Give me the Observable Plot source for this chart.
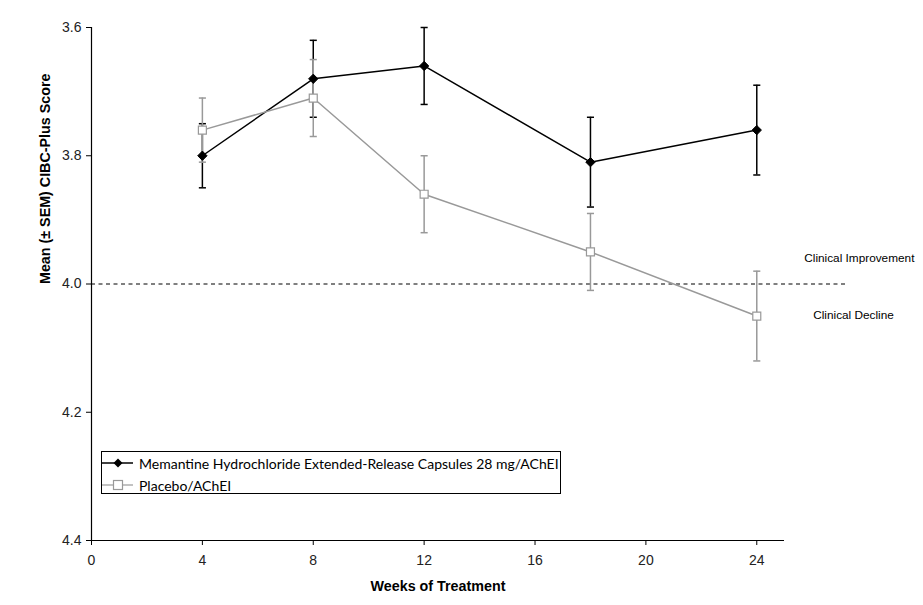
<!DOCTYPE html>
<html>
<head>
<meta charset="utf-8">
<script src="https://cdn.jsdelivr.net/npm/d3@7"></script>
<script src="https://cdn.jsdelivr.net/npm/@observablehq/plot@0.6"></script>
<style>
  body { margin: 0; background: #fff; }
  #wrap { position: relative; width: 923px; height: 605px; }
  #legend { position: absolute; left: 101px; top: 451px; width: 458px; height: 41px; border: 1px solid #000; background: #fff; font-family: Lato, "Open Sans", sans-serif; font-size: 14px; color: #000; }
  #legend .row { position: absolute; left: 0; height: 20px; display: flex; align-items: center; }
  #legend svg { display: block; }
  #legend span { margin-left: 6px; white-space: nowrap; }
</style>
</head>
<body>
<div id="wrap"></div>
<script>
const weeks = [4, 8, 12, 18, 24];
const memMean = [3.80, 3.68, 3.66, 3.81, 3.76];
const memLo = [3.75, 3.62, 3.60, 3.74, 3.69];
const memHi = [3.85, 3.74, 3.72, 3.88, 3.83];
const plaMean = [3.76, 3.71, 3.86, 3.95, 4.05];
const plaLo = [3.71, 3.65, 3.80, 3.89, 3.98];
const plaHi = [3.81, 3.77, 3.92, 4.01, 4.12];
const seriesNames = ["Memantine Hydrochloride Extended-Release Capsules 28 mg/AChEI", "Placebo/AChEI"];
const xTicks = [0, 4, 8, 12, 16, 20, 24];
const yTicks = [3.6, 3.8, 4.0, 4.2, 4.4];
const xLabel = "Weeks of Treatment";
const yLabel = "Mean (\u00B1 SEM) CIBC-Plus Score";
const refValue = 4.0;
const refLabels = [{label: "Clinical Improvement", x: 27.7, y: 3.96}, {label: "Clinical Decline", x: 27.49, y: 4.048}];

const mem = weeks.map((w, i) => ({week: w, mean: memMean[i], lo: memLo[i], hi: memHi[i]}));
const pla = weeks.map((w, i) => ({week: w, mean: plaMean[i], lo: plaLo[i], hi: plaHi[i]}));

const GRAY = "#999";
const cap = {draw(ctx, size) { const w = Math.sqrt(size) / 2; ctx.moveTo(-w, 0); ctx.lineTo(w, 0); }};
const font = "'Liberation Sans', Arial, sans-serif";

const chart = Plot.plot({
  width: 923, height: 605,
  marginLeft: 91, marginRight: 139, marginTop: 27, marginBottom: 65,
  style: {fontFamily: font, background: "#fff"},
  x: {domain: [0, 25]},
  y: {domain: [3.6, 4.4], reverse: true},
  marks: [
    Plot.ruleY([refValue], {x1: 0, x2: 27.3, stroke: "#000", strokeDasharray: "4,3.5", strokeWidth: 1}),
    Plot.ruleX([0], {y1: 3.6, y2: 4.4, stroke: "#000", strokeWidth: 1.2}),
    Plot.ruleY([4.4], {x1: 0, x2: 25, stroke: "#000", strokeWidth: 1.2}),
    Plot.axisY({ticks: yTicks, tickFormat: d3.format(".1f"), tickSize: 5, tickPadding: 5, fontSize: 14, label: null, stroke: "#000", fill: "#222"}),
    Plot.axisX({ticks: xTicks, tickSize: 5, tickPadding: 10, fontSize: 14, label: null, stroke: "#000", fill: "#222"}),
    Plot.text([yLabel], {frameAnchor: "left", dx: -46, rotate: -90, fontSize: 14.3, fontWeight: "bold", fill: "#000"}),
    Plot.text([xLabel], {frameAnchor: "bottom", dy: 50, fontSize: 14.3, fontWeight: "bold", fill: "#000"}),
    Plot.text(refLabels, {x: "x", y: "y", text: "label", fontSize: 11.8, fill: "#000"}),
    // error bars
    Plot.ruleX(mem, {x: "week", y1: "lo", y2: "hi", stroke: "#000", strokeWidth: 1.5}),
    Plot.dot(mem, {x: "week", y: "lo", symbol: cap, r: 4, stroke: "#000", strokeWidth: 1.5}),
    Plot.dot(mem, {x: "week", y: "hi", symbol: cap, r: 4, stroke: "#000", strokeWidth: 1.5}),
    Plot.ruleX(pla, {x: "week", y1: "lo", y2: "hi", stroke: GRAY, strokeWidth: 1.5}),
    Plot.dot(pla, {x: "week", y: "lo", symbol: cap, r: 4, stroke: GRAY, strokeWidth: 1.5}),
    Plot.dot(pla, {x: "week", y: "hi", symbol: cap, r: 4, stroke: GRAY, strokeWidth: 1.5}),
    // lines
    Plot.line(mem, {x: "week", y: "mean", stroke: "#000", strokeWidth: 1.5}),
    Plot.line(pla, {x: "week", y: "mean", stroke: GRAY, strokeWidth: 1.5}),
    Plot.dot(pla, {x: "week", y: "mean", symbol: "square", r: 4.5, fill: "#fff", stroke: GRAY, strokeWidth: 1.2}),
    Plot.dot(mem, {x: "week", y: "mean", symbol: "diamond2", r: 4.2, fill: "#000", stroke: "#000", strokeWidth: 1})
  ]
});
const wrap = document.getElementById("wrap");
wrap.appendChild(chart);

const legend = document.createElement("div");
legend.id = "legend";
const sampleMem = `<svg width="31" height="20"><line x1="0" y1="10" x2="31" y2="10" stroke="#000" stroke-width="1.5"/><path d="M16,5.5L20.5,10L16,14.5L11.5,10Z" fill="#000"/></svg>`;
const samplePla = `<svg width="31" height="20"><line x1="0" y1="10" x2="31" y2="10" stroke="${GRAY}" stroke-width="1.2"/><rect x="11.5" y="5.5" width="9" height="9" fill="#fff" stroke="${GRAY}" stroke-width="1.2"/></svg>`;
legend.innerHTML = `<div class="row" style="top:1px">${sampleMem}<span>${seriesNames[0]}</span></div>` +
  `<div class="row" style="top:23px">${samplePla}<span>${seriesNames[1]}</span></div>`;
wrap.appendChild(legend);
</script>
</body>
</html>
